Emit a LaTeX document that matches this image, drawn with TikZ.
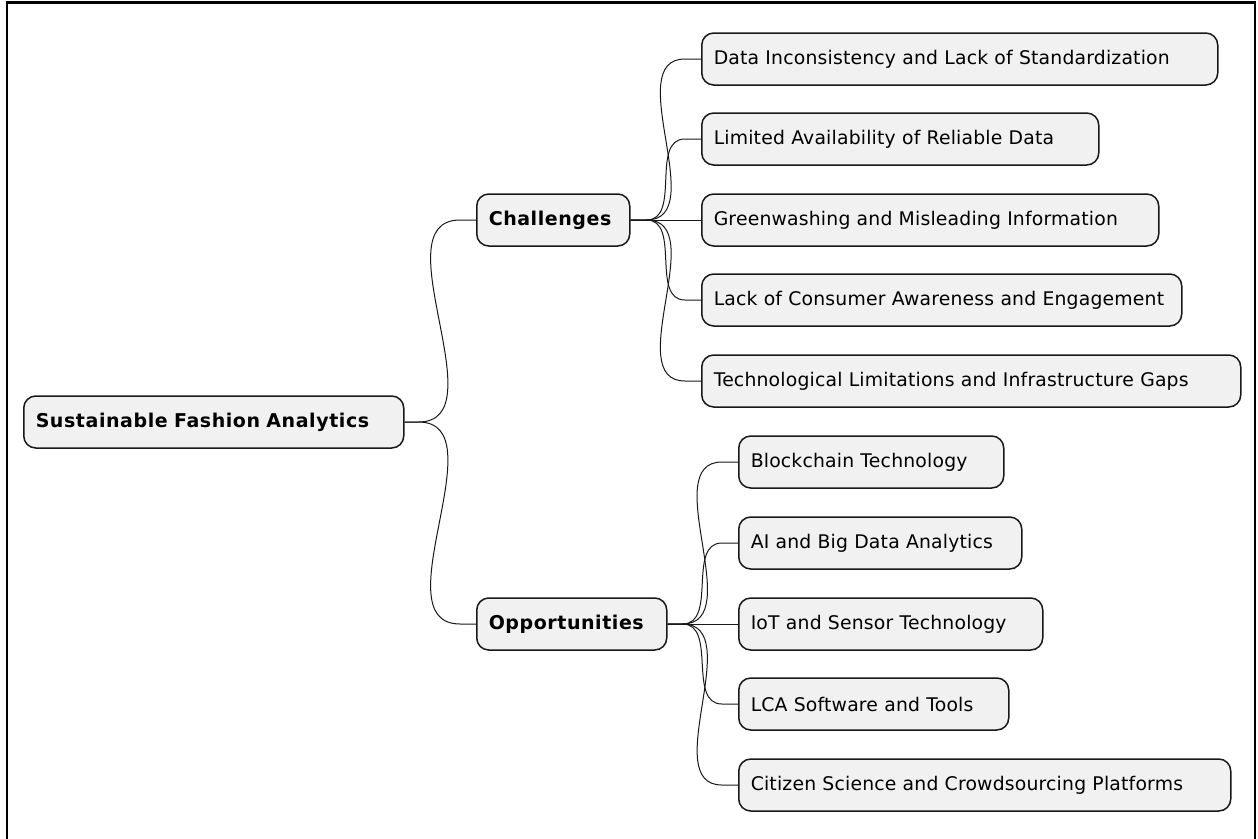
\documentclass[tikz,border=0pt]{standalone}
\usepackage{fontspec}
\setmainfont{DejaVu Sans}
\usetikzlibrary{positioning}
\definecolor{boxfill}{HTML}{F1F1F1}
\definecolor{boxline}{HTML}{181818}

\tikzset{
  topic/.style={draw=boxline, fill=boxfill, line width=1.5pt, rounded corners=12pt,
    minimum height=52pt, inner xsep=12pt, anchor=west, align=left,
    font=\fontsize{18.8}{23}\selectfont\addfontfeatures{LetterSpace=1}},
  maintopic/.style={topic, font=\fontsize{19}{23}\selectfont\bfseries\addfontfeatures{LetterSpace=3}},
  link/.style={draw=boxline, line width=1pt},
}

\begin{document}
\begin{tikzpicture}[x=1pt, y=-1pt]
  \useasboundingbox (0,0) rectangle (1258,838);
  \draw[black, line width=2.5pt] (7,840) -- (7,2.5) -- (1255,2.5) -- (1255,840);

  % Define nodes
  \node[maintopic, text width=356pt] (root) at (23,422) {Sustainable Fashion Analytics};
  \node[maintopic, text width=129pt] (chal) at (476,220) {Challenges};
  \node[maintopic, text width=166pt] (opp) at (476,624) {Opportunities};

  \node[topic, text width=492pt] (c1) at (701,59) {Data Inconsistency and Lack of Standardization};
  \node[topic, text width=373pt] (c2) at (701,139) {Limited Availability of Reliable Data};
  \node[topic, text width=433pt] (c3) at (701,220) {Greenwashing and Misleading Information};
  \node[topic, text width=456pt] (c4) at (701,300) {Lack of Consumer Awareness and Engagement};
  \node[topic, text width=515pt] (c5) at (701,381) {Technological Limitations and Infrastructure Gaps};

  \node[topic, text width=241pt] (o1) at (738,462) {Blockchain Technology};
  \node[topic, text width=259pt] (o2) at (738,543) {AI and Big Data Analytics};
  \node[topic, text width=280pt] (o3) at (738,624) {IoT and Sensor Technology};
  \node[topic, text width=246pt] (o4) at (738,704) {LCA Software and Tools};
  \node[topic, text width=468pt] (o5) at (738,785) {Citizen Science and Crowdsourcing Platforms};

  % Connect the nodes
  \draw[link] (root.east) -- ++(14,0) to[out=0, in=180] ([xshift=-16pt]chal.west) -- (chal.west);
  \draw[link] (root.east) -- ++(14,0) to[out=0, in=180] ([xshift=-16pt]opp.west) -- (opp.west);

  \draw[link] (chal.east) -- ++(16,0) to[out=0, in=180] ([xshift=-16pt]c1.west) -- (c1.west);
  \draw[link] (chal.east) -- ++(16,0) to[out=0, in=180] ([xshift=-16pt]c2.west) -- (c2.west);
  \draw[link] (chal.east) -- (c3.west);
  \draw[link] (chal.east) -- ++(16,0) to[out=0, in=180] ([xshift=-16pt]c4.west) -- (c4.west);
  \draw[link] (chal.east) -- ++(16,0) to[out=0, in=180] ([xshift=-16pt]c5.west) -- (c5.west);

  \draw[link] (opp.east) -- ++(15,0) to[out=0, in=180] ([xshift=-16pt]o1.west) -- (o1.west);
  \draw[link] (opp.east) -- ++(15,0) to[out=0, in=180] ([xshift=-16pt]o2.west) -- (o2.west);
  \draw[link] (opp.east) -- (o3.west);
  \draw[link] (opp.east) -- ++(15,0) to[out=0, in=180] ([xshift=-16pt]o4.west) -- (o4.west);
  \draw[link] (opp.east) -- ++(15,0) to[out=0, in=180] ([xshift=-16pt]o5.west) -- (o5.west);

\end{tikzpicture}
\end{document}
